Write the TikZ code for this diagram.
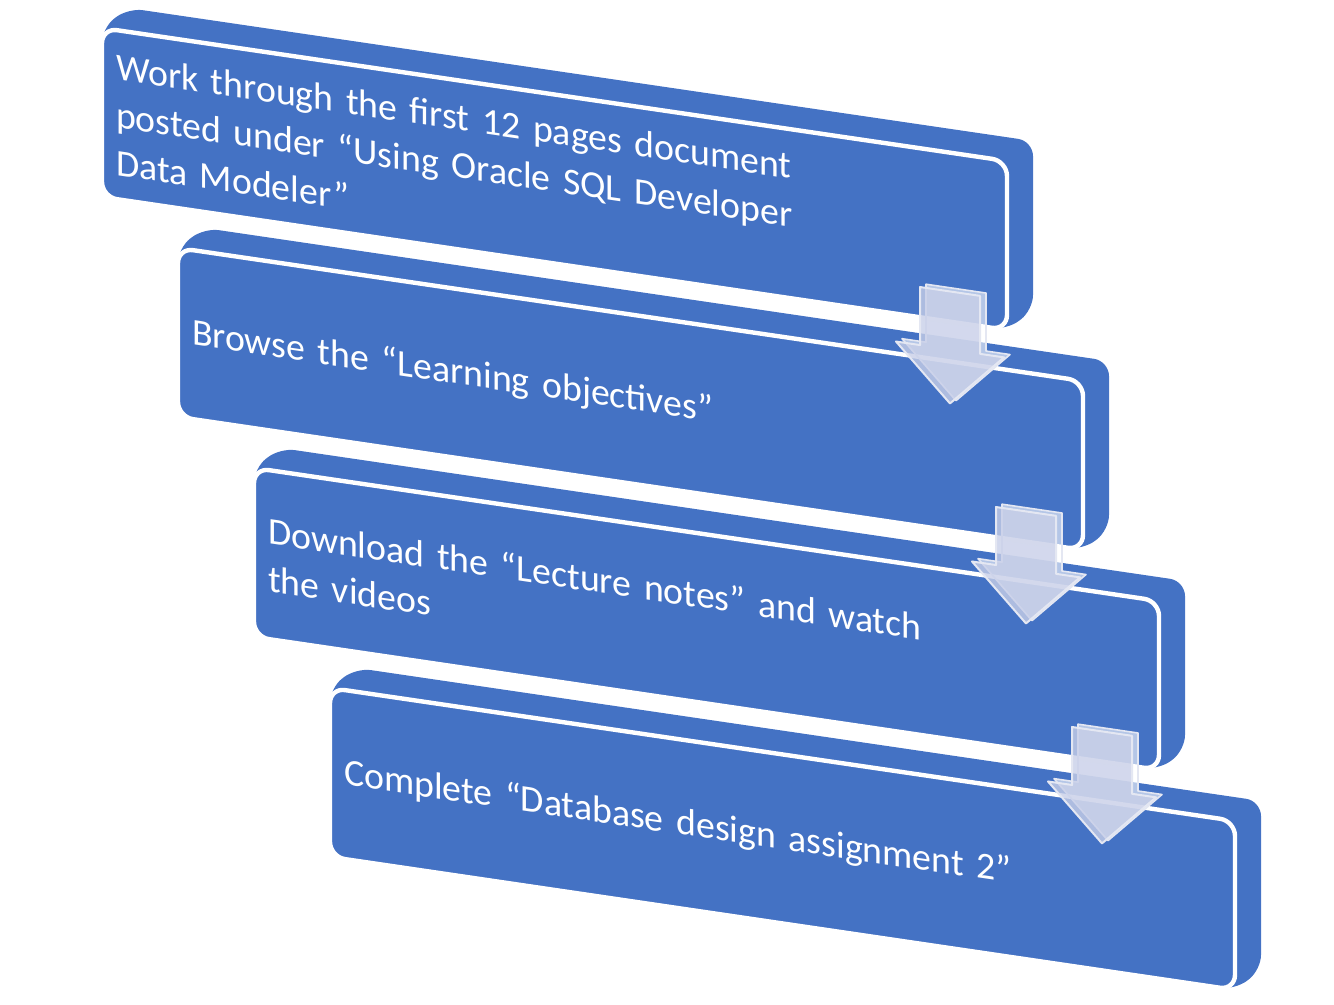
\documentclass[tikz,border=0pt]{standalone}
\usepackage{fontspec}
\setmainfont{Carlito}
\usetikzlibrary{calc}
\pgfdeclarelayer{back}
\pgfsetlayers{back,main}
\definecolor{stepblue}{RGB}{68,114,196}
\definecolor{arrowface}{RGB}{200,207,232}
\definecolor{arrowedge}{RGB}{228,231,242}

\begin{document}
\begin{tikzpicture}[x=0.5pt,y=-0.5pt]
\tikzset{
	stepbox/.style={draw=white, line width=2.2pt, fill=stepblue, rounded corners=7.5pt,
		minimum width=452.5pt, minimum height=84.5pt, text width=438.5pt, inner xsep=7pt,
		outer sep=0pt, align=left, text=white, font=\fontsize{18.9}{24}\selectfont, transform shape},
	stepdepth/.style={fill=stepblue, rounded corners=7.5pt},
	arrowback/.style={fill=white, fill opacity=0.6, draw=arrowedge, line width=0.8pt, line join=round},
	arrowfront/.style={fill=arrowface, fill opacity=0.8, draw=arrowedge, line width=1pt, line join=round}
}
\useasboundingbox (0,0) rectangle (1334,1005);
\begin{scope}[yslant=-0.147]
\node[stepbox] (s1) at (554.5,97.5) {Work through the first 12 pages document\\posted under “Using Oracle SQL Developer\\Data Modeler”};
\node[stepbox] (s2) at ($(s1.center)+(76,208.8)$) {Browse the “Learning objectives”};
\node[stepbox] (s3) at ($(s2.center)+(76,208.8)$) {Download the “Lecture notes” and watch\\the videos};
\node[stepbox] (s4) at ($(s3.center)+(76,208.8)$) {Complete “Database design assignment 2”};

% depth of the steps
\begin{pgfonlayer}{back}
\fill[stepdepth] (s1.north west) -- ($(s1.north west)+(26,-23.8)$) -- ($(s1.north east)+(26,-23.8)$) -- ($(s1.south east)+(26,-23.8)$) -- (s1.south east) -- (s1.south west) -- cycle;
\fill[stepdepth] (s2.north west) -- ($(s2.north west)+(26,-23.8)$) -- ($(s2.north east)+(26,-23.8)$) -- ($(s2.south east)+(26,-23.8)$) -- (s2.south east) -- (s2.south west) -- cycle;
\fill[stepdepth] (s3.north west) -- ($(s3.north west)+(26,-23.8)$) -- ($(s3.north east)+(26,-23.8)$) -- ($(s3.south east)+(26,-23.8)$) -- (s3.south east) -- (s3.south west) -- cycle;
\fill[stepdepth] (s4.north west) -- ($(s4.north west)+(26,-23.8)$) -- ($(s4.north east)+(26,-23.8)$) -- ($(s4.south east)+(26,-23.8)$) -- (s4.south east) -- (s4.south west) -- cycle;
\end{pgfonlayer}

% arrows
\coordinate (a1) at ($(s1.south east)+(-87,-30.2)$);
\coordinate (a2) at ($(s2.south east)+(-87,-30.2)$);
\coordinate (a3) at ($(s3.south east)+(-87,-30.2)$);
\draw[arrowback] ($(a1)+(6,-3.7)$) -- ++(60,0) -- ++(0,58) -- ++(24,0) -- ++(-54,54) -- ++(-54,-54) -- ++(24,0) -- cycle;
\draw[arrowfront] (a1) -- ++(60,0) -- ++(0,58) -- ++(24,0) -- ++(-54,54) -- ++(-54,-54) -- ++(24,0) -- cycle;
\draw[arrowback] ($(a2)+(6,-3.7)$) -- ++(60,0) -- ++(0,58) -- ++(24,0) -- ++(-54,54) -- ++(-54,-54) -- ++(24,0) -- cycle;
\draw[arrowfront] (a2) -- ++(60,0) -- ++(0,58) -- ++(24,0) -- ++(-54,54) -- ++(-54,-54) -- ++(24,0) -- cycle;
\draw[arrowback] ($(a3)+(6,-3.7)$) -- ++(60,0) -- ++(0,58) -- ++(24,0) -- ++(-54,54) -- ++(-54,-54) -- ++(24,0) -- cycle;
\draw[arrowfront] (a3) -- ++(60,0) -- ++(0,58) -- ++(24,0) -- ++(-54,54) -- ++(-54,-54) -- ++(24,0) -- cycle;
\end{scope}
\end{tikzpicture}
\end{document}
